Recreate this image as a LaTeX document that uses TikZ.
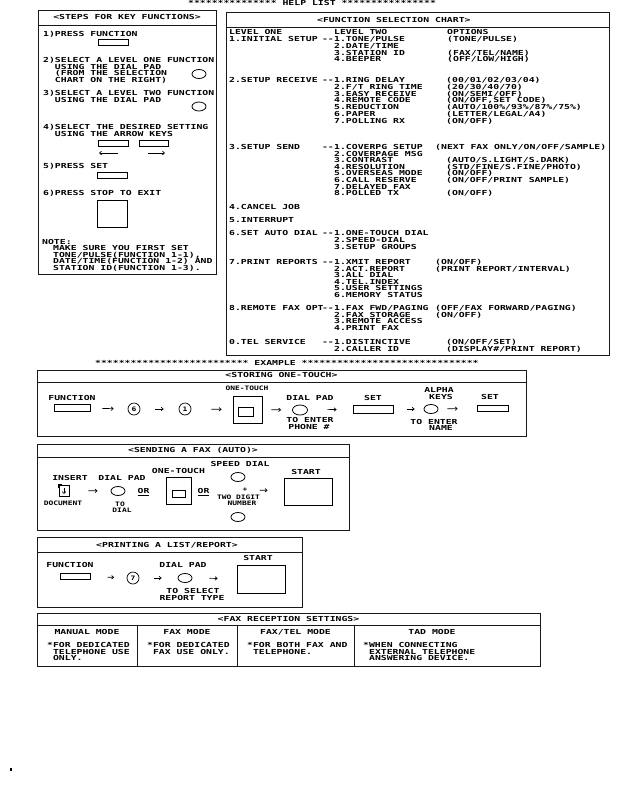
\documentclass[tikz,border=0pt]{standalone}
\usepackage{fontspec}
\usepackage{tikz}
\newfontfamily\printfont[FakeStretch=1.42]{DejaVu Sans Mono Bold}
\newfontfamily\printsmall[FakeStretch=1.3]{DejaVu Sans Mono Bold}
\newcommand{\helptext}{\printfont\fontsize{6.9pt}{6.9pt}\selectfont}
\newcommand{\helpsmall}{\printsmall\fontsize{6.1pt}{6.1pt}\selectfont}
\usetikzlibrary{arrows.meta, positioning, shapes.geometric}

\begin{document}
\begin{tikzpicture}[
    x=1pt, y=-1pt,
    txt/.style={font=\helptext, inner sep=0pt, anchor=base west},
    ctxt/.style={font=\helptext, inner sep=0pt, anchor=base},
    stxt/.style={font=\helpsmall, inner sep=0pt, anchor=base},
    lead/.style={font=\helptext, inner sep=0pt, anchor=base east},
    panel/.style={draw=black!90, line width=0.9pt},
    key/.style={rectangle, draw, line width=0.8pt, inner sep=0pt, minimum width=#1, minimum height=6pt},
    bigkey/.style={rectangle, draw, line width=0.8pt, inner sep=0pt, minimum width=#1, minimum height=27pt},
    smallkey/.style={rectangle, draw, line width=0.8pt, inner sep=0pt, minimum width=#1, minimum height=8pt},
    pad/.style={ellipse, draw, line width=0.8pt, inner sep=0pt, minimum width=14pt, minimum height=9pt},
    num/.style={circle, draw, line width=0.7pt, inner sep=0pt, minimum size=12pt, font=\helpsmall},
    flowtip/.style={-{Straight Barb[length=2pt,width=3.5pt]}, line width=0.7pt}
]
\fill[white] (0,0) rectangle (635,796);

% Header
\node[txt] (help) at (188,5.5) {*************** HELP LIST ****************};

% Steps for key functions
\draw[panel] (38,10) rectangle (216,274);
\draw[panel] (38,25) -- (216,25);
\node[ctxt] (stepstitle) at (127,19.5) {<STEPS FOR KEY FUNCTIONS>};
\node[txt] (s1) at (43,36) {1)PRESS FUNCTION};
\node[key=30pt] (fnkey) at (113.5,42) {};
\foreach \t [count=\i] in {2)SELECT A LEVEL ONE FUNCTION, \phantom{2)}USING THE DIAL PAD,
    \phantom{2)}(FROM THE SELECTION, \phantom{2)}CHART ON THE RIGHT)}
    \node[txt] (s2-\i) at (43,62.5+6.5*\i-6.5) {\t};
\node[pad] (s2pad) at (199,74) {};
\foreach \t [count=\i] in {3)SELECT A LEVEL TWO FUNCTION, \phantom{3)}USING THE DIAL PAD}
    \node[txt] (s3-\i) at (43,95.5+6.5*\i-6.5) {\t};
\node[pad] (s3pad) at (199,106.5) {};
\foreach \t [count=\i] in {4)SELECT THE DESIRED SETTING, \phantom{4)}USING THE ARROW KEYS}
    \node[txt] (s4-\i) at (43,129.5+6.5*\i-6.5) {\t};
\node[key=30pt] (lkey) at (113,143) {};
\node[key=29pt] (rkey) at (153.5,143) {};
\coordinate (lbeg) at (118,153);
\coordinate (lend) at (99,153);
\coordinate (rbeg) at (148,153);
\coordinate (rend) at (165,153);
\draw[flowtip] (lbeg) -- (lend);
\draw[flowtip] (rbeg) -- (rend);
\node[txt] (s5) at (43,168.5) {5)PRESS SET};
\node[key=30pt] (setkey) at (112,175) {};
\node[txt] (s6) at (43,195.5) {6)PRESS STOP TO EXIT};
\node[bigkey=30pt] (stopkey) at (112,213.5) {};
\node[txt] (note) at (42,244.5) {NOTE:};
\foreach \t [count=\i] in {MAKE SURE YOU FIRST SET, {TONE/PULSE(FUNCTION 1-1),},
    DATE/TIME(FUNCTION 1-2) AND, STATION ID(FUNCTION 1-3).}
    \node[txt] (note-\i) at (53,250.8+6.5*\i-6.5) {\t};

% Function selection chart
\draw[panel] (226,12) rectangle (609,355);
\draw[panel] (226,27) -- (609,27);
\node[txt] (charttitle) at (317,22.5) {<FUNCTION SELECTION CHART>};
\node[txt] (lvone) at (229,34.5) {LEVEL ONE};
\node[txt] (lvtwo) at (334,34.5) {LEVEL TWO};
\node[txt] (opts) at (447,34.5) {OPTIONS};

% 1. initial setup
\node[txt] (g1) at (229,41.5) {1.INITIAL SETUP};
\node[lead] (g1l) at (334,41.5) {--};
\foreach \t [count=\i] in {1.TONE/PULSE, 2.DATE/TIME, 3.STATION ID, 4.BEEPER}
    \node[txt] (g1-\i) at (334,41.5+6.8*\i-6.8) {\t};
\foreach \t [count=\i] in {(TONE/PULSE), {}, (FAX/TEL/NAME), (OFF/LOW/HIGH)}
    \node[txt] (o1-\i) at (447,41.5+6.8*\i-6.8) {\t};

% 2. setup receive
\node[txt] (g2) at (229,82.5) {2.SETUP RECEIVE};
\node[lead] (g2l) at (334,82.5) {--};
\foreach \t [count=\i] in {1.RING DELAY, 2.F/T RING TIME, 3.EASY RECEIVE, 4.REMOTE CODE,
    5.REDUCTION, 6.PAPER, 7.POLLING RX}
    \node[txt] (g2-\i) at (334,82.5+6.8*\i-6.8) {\t};
\foreach \t [count=\i] in {(00/01/02/03/04), (20/30/40/70), (ON/SEMI/OFF), {(ON/OFF,SET CODE)},
    (AUTO/100\%/93\%/87\%/75\%), (LETTER/LEGAL/A4), (ON/OFF)}
    \node[txt] (o2-\i) at (446,82.5+6.8*\i-6.8) {\t};

% 3. setup send
\node[txt] (g3) at (229,149.5) {3.SETUP SEND};
\node[lead] (g3l) at (334,149.5) {--};
\foreach \t [count=\i] in {1.COVERPG SETUP, 2.COVERPAGE MSG, 3.CONTRAST, 4.RESOLUTION,
    5.OVERSEAS MODE, 6.CALL RESERVE, 7.DELAYED FAX, 8.POLLED TX}
    \node[txt] (g3-\i) at (334,149.5+6.6*\i-6.6) {\t};
\node[txt] (o3-1) at (435,149.5) {(NEXT FAX ONLY/ON/OFF/SAMPLE)};
\foreach \t [count=\i] in {{}, {}, (AUTO/S.LIGHT/S.DARK), (STD/FINE/S.FINE/PHOTO), (ON/OFF),
    (ON/OFF/PRINT SAMPLE), {}, (ON/OFF)}
    \node[txt] (o3b-\i) at (446,149.5+6.6*\i-6.6) {\t};

% 4. and 5.
\node[txt] (g4) at (229,209.5) {4.CANCEL JOB};
\node[txt] (g5) at (229,222.5) {5.INTERRUPT};

% 6. set auto dial
\node[txt] (g6) at (229,235.5) {6.SET AUTO DIAL};
\node[lead] (g6l) at (334,235.5) {--};
\foreach \t [count=\i] in {1.ONE-TOUCH DIAL, 2.SPEED-DIAL, 3.SETUP GROUPS}
    \node[txt] (g6-\i) at (334,235.5+6.9*\i-6.9) {\t};

% 7. print reports
\node[txt] (g7) at (229,264.5) {7.PRINT REPORTS};
\node[lead] (g7l) at (334,264.5) {--};
\foreach \t [count=\i] in {1.XMIT REPORT, 2.ACT.REPORT, 3.ALL DIAL, 4.TEL.INDEX,
    5.USER SETTINGS, 6.MEMORY STATUS}
    \node[txt] (g7-\i) at (334,264.5+6.6*\i-6.6) {\t};
\foreach \t [count=\i] in {(ON/OFF), (PRINT REPORT/INTERVAL)}
    \node[txt] (o7-\i) at (435,264.5+6.6*\i-6.6) {\t};

% 8. remote fax opt
\node[txt] (g8) at (229,310.5) {8.REMOTE FAX OPT};
\node[lead] (g8l) at (334,310.5) {--};
\foreach \t [count=\i] in {1.FAX FWD/PAGING, 2.FAX STORAGE, 3.REMOTE ACCESS, 4.PRINT FAX}
    \node[txt] (g8-\i) at (334,310.5+6.7*\i-6.7) {\t};
\foreach \t [count=\i] in {(OFF/FAX FORWARD/PAGING), (ON/OFF)}
    \node[txt] (o8-\i) at (435,310.5+6.7*\i-6.7) {\t};

% 0. tel service
\node[txt] (g0) at (229,344.5) {0.TEL SERVICE};
\node[lead] (g0l) at (334,344.5) {--};
\foreach \t [count=\i] in {1.DISTINCTIVE, 2.CALLER ID}
    \node[txt] (g0-\i) at (334,344.5+6.8*\i-6.8) {\t};
\foreach \t [count=\i] in {(ON/OFF/SET), (DISPLAY\#/PRINT REPORT)}
    \node[txt] (o0-\i) at (446,344.5+6.8*\i-6.8) {\t};

% Example
\node[txt] (example) at (95,365) {************************** EXAMPLE ******************************};

% Storing one-touch
\draw[panel] (37,370) rectangle (526,436);
\draw[panel] (37,382) -- (526,382);
\node[ctxt] (storetitle) at (281.5,377.5) {<STORING ONE-TOUCH>};
\node[ctxt] (fnlab) at (72,400.5) {FUNCTION};
\node[key=36pt, minimum height=7pt] (fnkey2) at (72,408) {};
\node[num] (n6) at (134,409) {6};
\node[num] (n1) at (185,409) {1};
\node[stxt] (otlab) at (247,390.5) {ONE-TOUCH};
\node[bigkey=29pt] (otkey) at (247.5,409.5) {};
\node[smallkey=15pt, minimum height=9pt] (otinner) at (246,412) {};
\node[ctxt] (padlab) at (310,400.5) {DIAL PAD};
\node[pad, minimum width=15pt, minimum height=10pt] (pad1) at (300,410) {};
\node[ctxt] (ent1a) at (310,422.5) {TO ENTER};
\node[ctxt] (ent1b) at (309,429.5) {PHONE \#};
\node[ctxt] (setlab) at (373,400.5) {SET};
\node[smallkey=40pt] (setkey2) at (373,409) {};
\node[ctxt] (alab) at (439,392.5) {ALPHA};
\node[ctxt] (klab) at (441,399.5) {KEYS};
\node[pad] (pad2) at (431,409) {};
\node[ctxt] (set2lab) at (490,399.5) {SET};
\node[key=31pt] (set2key) at (492.5,408) {};
\node[ctxt] (ent2a) at (434,424.5) {TO ENTER};
\node[ctxt] (ent2b) at (441,430.5) {NAME};
\draw[flowtip, shorten <=12pt, shorten >=14pt] (fnkey2) -- (n6);
\draw[flowtip, shorten <=15pt, shorten >=15pt] (n6) -- (n1);
\draw[flowtip, shorten <=20pt, shorten >=11pt] (n1) -- (otkey);
\draw[flowtip, shorten <=9pt, shorten >=11pt] (otkey) -- (pad1);
\draw[flowtip, shorten <=19.5pt, shorten >=16pt] (pad1) -- (setkey2);
\draw[flowtip, shorten <=14pt, shorten >=9pt] (setkey2) -- (pad2);
\draw[flowtip, shorten <=9pt, shorten >=19pt] (pad2) -- (set2key);

% Sending a fax
\draw[panel] (37,444) rectangle (349,530);
\draw[panel] (37,457) -- (349,457);
\node[ctxt] (sendtitle) at (193,452.5) {<SENDING A FAX (AUTO)>};
\node[ctxt] (inslab) at (70,480.5) {INSERT};
\node[rectangle, draw, line width=0.8pt, minimum width=10pt, minimum height=11pt, inner sep=0pt] (doc) at (64,490.5) {};
\draw[line width=1.5pt] ([shift={(0,3)}]doc.north west) -- (doc.north west) -- ([shift={(3,0)}]doc.north west);
\draw[flowtip, line width=0.6pt] ([shift={(0,-3)}]doc.center) -- ([shift={(0,3.5)}]doc.center);
\node[stxt] (doclab) at (63,505.5) {DOCUMENT};
\node[ctxt] (dplab) at (122,480.5) {DIAL PAD};
\node[pad] (pad3) at (118,491) {};
\node[stxt] (todial1) at (120,506.5) {TO};
\node[stxt] (todial2) at (122,512.5) {DIAL};
\node[ctxt] (or1) at (143.5,493.5) {\underline{OR}};
\node[ctxt] (ot2lab) at (178.5,473.5) {ONE-TOUCH};
\node[bigkey=25pt] (ot2key) at (178.5,490.5) {};
\node[smallkey=13pt, minimum height=7pt] (ot2inner) at (178.5,493.5) {};
\node[ctxt] (or2) at (203.5,493.5) {\underline{OR}};
\node[ctxt] (sdlab) at (240,466.5) {SPEED DIAL};
\node[pad] (pad4) at (238,477) {};
\node[stxt] (plus) at (245,491.5) {+};
\node[stxt] (two1) at (238.5,499.5) {TWO DIGIT};
\node[stxt] (two2) at (242,505.5) {NUMBER};
\node[pad] (pad5) at (238,517) {};
\node[ctxt] (stlab) at (306,474.5) {START};
\node[bigkey=48pt] (startkey) at (308,491.5) {};
\draw[flowtip, shorten <=19pt, shorten >=13pt] (doc) -- (pad3);
\draw[flowtip, shorten <=12pt, shorten >=16pt] (plus) -- (startkey);

% Printing a list/report
\draw[panel] (37,537) rectangle (302,607);
\draw[panel] (37,552) -- (302,552);
\node[ctxt] (printtitle) at (167,547.5) {<PRINTING A LIST/REPORT>};
\node[ctxt] (fn3lab) at (70,567.5) {FUNCTION};
\node[key=30pt] (fn3key) at (75,576) {};
\node[num] (n7) at (133,578) {7};
\node[ctxt] (dp3lab) at (183,567.5) {DIAL PAD};
\node[pad] (pad6) at (185,578) {};
\node[ctxt] (sel1) at (193,593.5) {TO SELECT};
\node[ctxt] (sel2) at (192,600.5) {REPORT TYPE};
\node[ctxt] (st3lab) at (258,560.5) {START};
\node[bigkey=48pt, minimum height=28pt] (start3) at (261,579) {};
\draw[flowtip, shorten <=17pt, shorten >=12.5pt] (fn3key) -- (n7);
\draw[flowtip, shorten <=14.5pt, shorten >=16pt] (n7) -- (pad6);
\draw[flowtip, shorten <=17pt, shorten >=19pt] (pad6) -- (start3);

% Fax reception settings
\draw[panel] (37,613) rectangle (540,666);
\draw[panel] (37,625) -- (540,625);
\foreach \x in {137,237,354}
    \draw[panel] (\x,625) -- (\x,666);
\node[ctxt] (rxtitle) at (288.5,621.5) {<FAX RECEPTION SETTINGS>};
\node[ctxt] (mode1) at (87,634.5) {MANUAL MODE};
\node[ctxt] (mode2) at (187,634.5) {FAX MODE};
\node[ctxt] (mode3) at (295.5,634.5) {FAX/TEL MODE};
\node[ctxt] (mode4) at (432,634.5) {TAD MODE};
\foreach \t [count=\i] in {*FOR DEDICATED, \phantom{*}TELEPHONE USE, \phantom{*}ONLY.}
    \node[txt] (m1-\i) at (47,647.5+6.7*\i-6.7) {\t};
\foreach \t [count=\i] in {*FOR DEDICATED, \phantom{*}FAX USE ONLY.}
    \node[txt] (m2-\i) at (147,647.5+6.7*\i-6.7) {\t};
\foreach \t [count=\i] in {*FOR BOTH FAX AND, \phantom{*}TELEPHONE.}
    \node[txt] (m3-\i) at (247,647.5+6.7*\i-6.7) {\t};
\foreach \t [count=\i] in {*WHEN CONNECTING, \phantom{*}EXTERNAL TELEPHONE, \phantom{*}ANSWERING DEVICE.}
    \node[txt] (m4-\i) at (363,647.5+6.7*\i-6.7) {\t};

% speck at lower left
\fill (10,768) rectangle (12,771);

\end{tikzpicture}
\end{document}
